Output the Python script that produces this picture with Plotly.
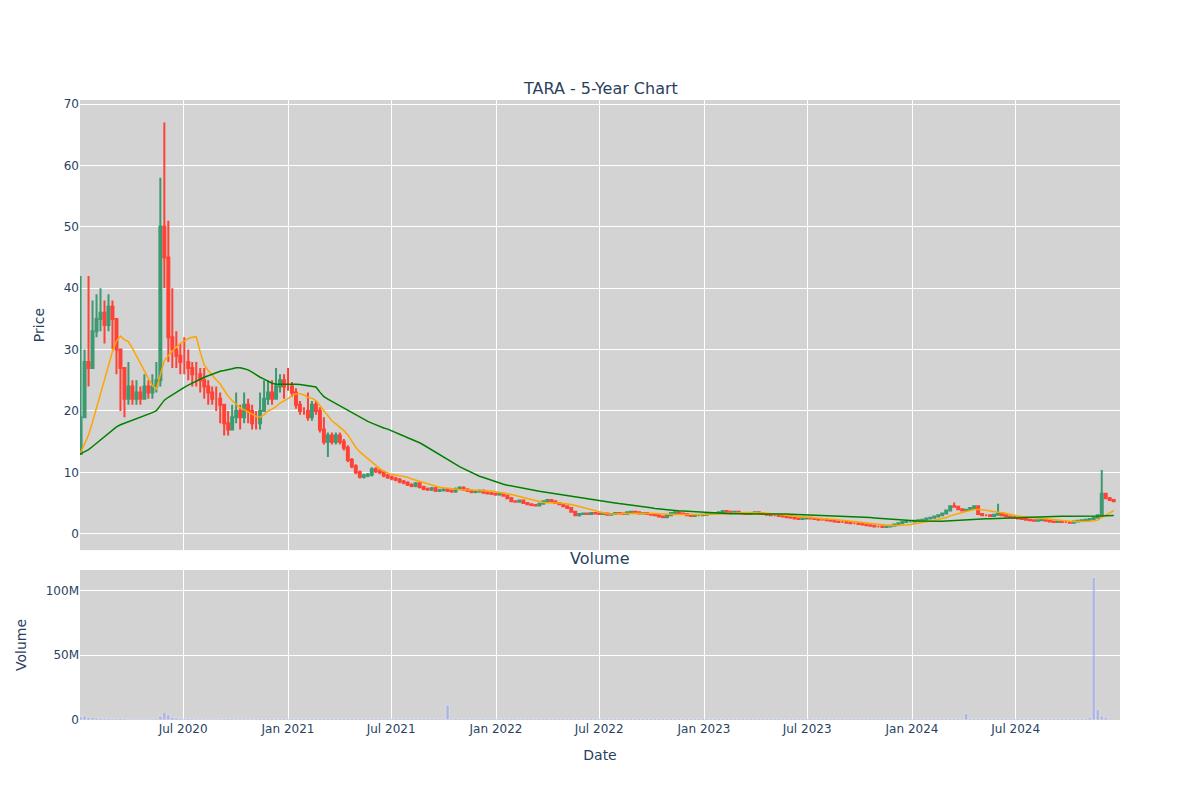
import pandas as pd
import plotly.graph_objects as go
from plotly.subplots import make_subplots

# Late-2019 weekly closes (before the visible range; they seed the moving averages)
close_2019 = [14, 14, 13.5, 13, 13.5, 14, 13, 12.5, 13, 13.5, 13, 12.5, 13, 13.5, 14, 13,
              12.5, 13, 13, 12.5, 13, 13.5, 13, 12.5, 13, 12, 12.5, 13, 12.5, 12,
              12.5, 13, 12.5, 12, 12.5, 12, 13, 12.5, 12, 13]
# Weekly closes, starting week of 2020-01-03
close_2020 = [19, 28, 27, 33, 35, 36, 34, 37, 35, 30, 27, 22, 24, 22, 23, 22, 24,
              23, 24, 25, 50, 45, 32, 30, 29, 28,
              28, 27, 26, 26, 25, 24, 23, 22, 22, 21, 18, 17, 19,
              20, 19, 21, 20, 18, 18, 20, 22, 23, 22, 24, 25, 24]
high_2020 = [42, 30, 42, 38, 39, 40, 38, 39, 38, 35, 30, 27, 28, 25, 25, 24, 26,
             25, 26, 28, 58, 67, 51, 40, 33, 31,
             32, 30, 28, 28, 27, 27, 25, 24, 24, 23, 21, 20, 21,
             23, 21, 23, 22, 21, 20, 23, 25, 25, 25, 27, 26, 26]
low_2020 = [15, 22, 24, 30, 32, 33, 31, 33, 30, 26, 20, 19, 21, 21, 21, 21, 22,
            22, 22, 23, 24, 40, 28, 27, 27, 26,
            26, 25, 24, 24, 23, 22, 21, 21, 20, 18, 16, 16, 17,
            18, 17, 18, 18, 17, 17, 17, 21, 21, 21, 22, 23, 22]
close_later = [
    24, 23, 21, 20, 20, 19, 21, 20, 17, 15, 16, 15, 16,
    15, 14, 12, 11, 10, 9.3, 9.5, 9.6, 10.5, 10.2, 10, 9.5, 9.2,
    9, 8.8, 8.5, 8.3, 8, 7.8, 8.2, 7.6, 7.3, 7.2, 7.4, 7.0, 7.1,
    7.2, 7.0, 6.9, 7.3, 7.5, 7.2, 7.0, 6.8, 6.9, 7.0, 6.7, 6.6, 6.5,
    6.4, 6.5, 6.2, 5.8, 5.3, 5.2, 5.4, 5.0, 4.8, 4.7, 4.6, 4.9, 5.3,
    5.5, 5.3, 5.0, 4.8, 4.5, 4.2, 3.6, 3.0, 3.2, 3.3, 3.2, 3.4, 3.3,
    3.2, 3.3, 3.1, 3.2, 3.4, 3.3, 3.2, 3.5, 3.6, 3.5, 3.3, 3.4, 3.2,
    3.1, 3.0, 2.8, 2.7, 3.0, 3.4, 3.5, 3.3, 3.2, 3.0, 2.9, 3.0, 3.0,
    3.1, 3.2, 3.3, 3.4, 3.5, 3.7, 3.6, 3.5, 3.6, 3.4, 3.3, 3.2, 3.4,
    3.5, 3.3, 3.2, 3.1, 3.0, 3.0, 2.9, 2.8, 2.7, 2.6, 2.5, 2.4, 2.5,
    2.6, 2.5, 2.4, 2.3, 2.3, 2.2, 2.1, 2.0, 1.9, 1.9, 1.8, 1.7, 1.7,
    1.6, 1.5, 1.4, 1.3, 1.2, 1.2, 1.1, 1.2, 1.3, 1.5, 1.7, 1.9, 2.0,
    2.0, 2.1, 2.2, 2.3, 2.5, 2.6, 2.8, 3.0, 3.3, 3.8, 4.5, 4.4, 4.0,
    3.8, 3.9, 4.2, 4.5, 3.2, 3.0, 3.0, 2.9, 3.1, 3.3, 3.0, 2.8, 2.7,
    2.6, 2.5, 2.4, 2.3, 2.2, 2.1, 2.2, 2.3, 2.1, 2.0, 1.9, 2.0, 1.9,
    1.9, 1.8, 2.0, 2.1, 2.2, 2.3, 2.4, 2.6, 3.0, 6.5, 5.8, 5.5, 5.3]
spike_high_idx = [0, 5, 9, 167, 178, 204]
spike_high_val = [27, 23, 19, 5.1, 4.9, 10.4]
spike_low_idx = [10, 73, 147]
spike_low_val = [12.5, 2.8, 1.0]

# Weekly volume, millions
vol_2020 = [2.5, 3, 2, 2, 1.5, 1.5, 1.2, 1.2, 1, 1, 1.2, 1, 0.8, 0.8, 0.8, 0.7, 0.7,
            0.7, 0.8, 1, 3, 6, 4, 2, 1.5, 1.2, 1, 1, 0.9, 0.8, 0.8, 0.8, 0.7, 0.7, 0.7,
            0.8, 1, 1, 0.9, 0.8, 0.8, 0.8, 0.8, 0.8, 0.8, 1, 1, 1, 0.9, 0.9, 1, 0.9]
vol_later = [1.0] * 40 + [11.5] + [1.0] * 129 + [5.0] + [1.0] * 30 + [2.0, 110, 8, 3, 2]

all_close = close_2019 + close_2020 + close_later
all_dates = pd.date_range("2019-03-29", periods=len(all_close), freq="W-FRI")
s = pd.Series(all_close, index=all_dates)
ma50 = s.rolling(10, min_periods=1).mean()
ma200 = s.rolling(40, min_periods=1).mean()

close = close_2020 + close_later
dates = all_dates[len(close_2019):]
opens = [close_2019[-1]] + close[:-1]
n0 = len(close_2020)
high = high_2020 + [max(o, c) * 1.03 for o, c in zip(opens[n0:], close_later)]
low = low_2020 + [min(o, c) * 0.97 for o, c in zip(opens[n0:], close_later)]
for i, v in zip(spike_high_idx, spike_high_val):
    high[n0 + i] = v
for i, v in zip(spike_low_idx, spike_low_val):
    low[n0 + i] = v
volume = [v * 1e6 for v in vol_2020 + vol_later][:len(close)]

fig = make_subplots(rows=2, cols=1, shared_xaxes=True, vertical_spacing=0.032,
                    row_heights=[0.75, 0.25],
                    subplot_titles=("TARA - 5-Year Chart", "Volume"))
fig.add_trace(go.Candlestick(x=dates, open=opens, high=high, low=low, close=close,
                             increasing_line_color="#3D9970", decreasing_line_color="#FF4136",
                             name="TARA"), row=1, col=1)
fig.add_trace(go.Scatter(x=all_dates, y=ma50, mode="lines", line=dict(color="orange", width=1.5),
                         name="50-day MA"), row=1, col=1)
fig.add_trace(go.Scatter(x=all_dates, y=ma200, mode="lines", line=dict(color="green", width=1.5),
                         name="200-day MA"), row=1, col=1)
fig.add_trace(go.Bar(x=dates, y=volume, marker_color="rgba(99,110,250,0.3)", name="Volume"),
              row=2, col=1)

fig.update_layout(width=1200, height=800, showlegend=False, font=dict(family="DejaVu Sans"),
                  plot_bgcolor="#d3d3d3", paper_bgcolor="white",
                  margin=dict(l=72, r=88, t=92, b=88),
                  xaxis_rangeslider_visible=False)
xr = ["2020-01-02", "2024-12-31"]
fig.update_xaxes(range=xr, gridcolor="white", tick0="2020-07-01", dtick="M6",
                 tickformat="%b %Y", showline=False, zeroline=False)
fig.update_xaxes(title_text="Date", row=2, col=1)
fig.update_yaxes(title_text="Price", gridcolor="white", zeroline=False, row=1, col=1)
fig.update_yaxes(title_text="Volume", gridcolor="white", zeroline=False, row=2, col=1)
fig.write_html("out.html")
